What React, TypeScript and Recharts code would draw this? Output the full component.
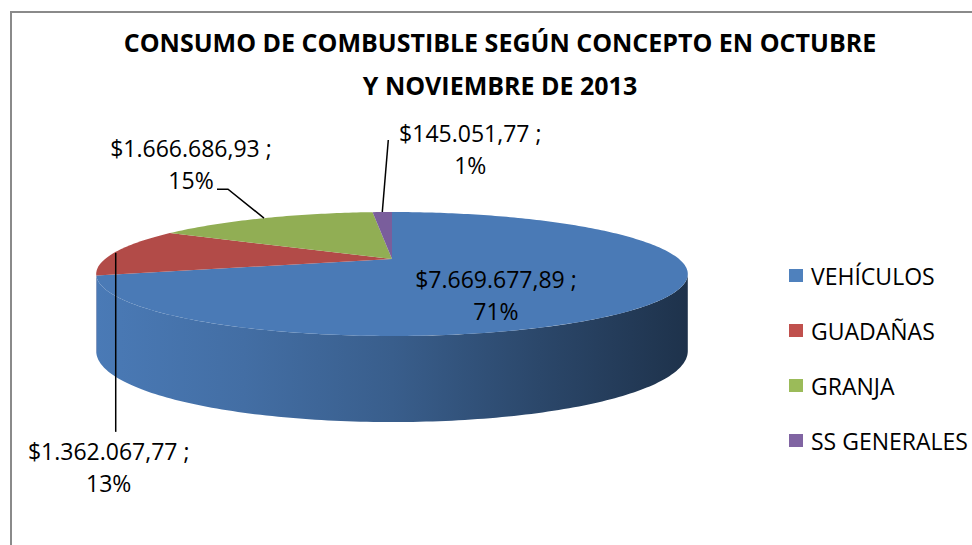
import React from 'react';
import { PieChart, Pie, Cell, Legend } from 'recharts';

const categories = ['VEHÍCULOS', 'GUADAÑAS', 'GRANJA', 'SS GENERALES'];
const amounts = [7669677.89, 1362067.77, 1666686.93, 145051.77];
const titleLines = ['CONSUMO DE COMBUSTIBLE SEGÚN CONCEPTO EN OCTUBRE', 'Y NOVIEMBRE DE 2013'];

const legendColors = ['#4f81bd', '#c0504d', '#9bbb59', '#8064a2'];
const topColors = ['#4a7ab6', '#b24b48', '#91ae54', '#7a5e9c'];

const data = categories.map((name, i) => ({ name, value: amounts[i] }));

const FONT = '"Open Sans", Lato, sans-serif';
// fake excel-style 3d: flatten + a bit of perspective
const TILT = 0.2033;
const PERSP = 0.242;
const VIS = (Math.asin(PERSP) * 180) / Math.PI;
const shades = [1, 0.9, 0.77, 0.58, 0.41];

function fmtMoney(v: number) {
  const [int, dec] = v.toFixed(2).split('.');
  return '$' + int.replace(/\B(?=(\d{3})+(?!\d))/g, '.') + ',' + dec;
}

function shade(hex: string, f: number) {
  const n = parseInt(hex.slice(1), 16);
  const c = [(n >> 16) & 255, (n >> 8) & 255, n & 255].map((x) => Math.round(x * f));
  return `rgb(${c.join(',')})`;
}

function project(cx: number, cy: number, R: number, deg: number, r = 1) {
  const a = (deg * Math.PI) / 180;
  const u = r * Math.cos(a);
  const v = -r * Math.sin(a);
  const s = 1 / (1 - PERSP * v);
  return { x: cx + R * u * s, y: cy + R * TILT * v * s, v };
}

function arc(cx: number, cy: number, R: number, from: number, to: number) {
  const n = Math.max(2, Math.ceil(Math.abs(to - from)));
  const pts = [];
  for (let i = 0; i <= n; i++) pts.push(project(cx, cy, R, from + ((to - from) * i) / n));
  return pts;
}

const Slice3D = (props: any) => {
  const { cx, cy, outerRadius: R, startAngle, endAngle, index } = props;
  const top = arc(cx, cy, R, startAngle, endAngle);
  const topPath = `M${cx},${cy}` + top.map((p) => `L${p.x},${p.y}`).join('') + 'Z';
  const lo = Math.min(startAngle, endAngle);
  const hi = Math.max(startAngle, endAngle);
  const walls: string[] = [];
  for (const shift of [-360, 0, 360]) {
    const a = Math.max(lo, -180 + VIS + shift);
    const b = Math.min(hi, -VIS + shift);
    if (b > a) {
      const upper = arc(cx, cy, R, a, b);
      const lower = upper
        .slice()
        .reverse()
        .map((p) => ({ x: p.x, y: p.y + R * (0.258 + 0.042 * p.v) }));
      walls.push('M' + [...upper, ...lower].map((p) => `${p.x},${p.y}`).join('L') + 'Z');
    }
  }
  const gid = `wall-${index}`;
  const base = topColors[index];
  return (
    <g>
      <defs>
        <linearGradient id={gid} gradientUnits="userSpaceOnUse" x1={cx - R * 1.031} x2={cx + R * 1.031} y1={0} y2={0}>
          {shades.map((f, i) => (
            <stop key={i} offset={i / (shades.length - 1)} stopColor={shade(base, f)} />
          ))}
        </linearGradient>
      </defs>
      {walls.map((d, i) => (
        <path key={i} d={d} fill={`url(#${gid})`} />
      ))}
      <path d={topPath} fill={base} />
    </g>
  );
};

// where each label sits, relative to its slice point
const labelLayout = [
  { r: 0.45, dx: -6, dy: 12, leader: [] as number[][] },
  { r: 1, dx: -7, dy: 208, leader: [[0, 1], [0, 180]] },
  { r: 1, dx: -73, dy: -61, leader: [[0, 0], [-36, -29], [-47, -29]] },
  { r: 1, dx: 88, dy: -70, leader: [[0, 0], [6, -72]] },
];

const renderLabel = (props: any) => {
  const { cx, cy, outerRadius, midAngle, index, value, percent } = props;
  const lay = labelLayout[index];
  const p = project(cx, cy, outerRadius, midAngle, lay.r);
  const tx = p.x + lay.dx;
  const ty = p.y + lay.dy;
  return (
    <g key={`lbl-${index}`}>
      {lay.leader.length > 0 && (
        <polyline
          points={lay.leader.map(([dx, dy]) => `${p.x + dx},${p.y + dy}`).join(' ')}
          fill="none"
          stroke="#000"
          strokeWidth={1.5}
        />
      )}
      <text x={tx} y={ty} textAnchor="middle" fontFamily={FONT} fontSize={23} fill="#000">
        {fmtMoney(value)} ;
      </text>
      <text x={tx} y={ty + 32} textAnchor="middle" fontFamily={FONT} fontSize={23} fill="#000">
        {Math.round(percent * 100)}%
      </text>
    </g>
  );
};

const renderLegend = (props: any) => {
  const items = [...(props.payload || [])].sort(
    (a: any, b: any) => categories.indexOf(a.value) - categories.indexOf(b.value)
  );
  return (
    <div style={{ fontFamily: FONT }}>
      {items.map((e: any, i: number) => (
        <div key={i} style={{ display: 'flex', alignItems: 'center', height: 55 }}>
          <span style={{ display: 'inline-block', width: 14, height: 13, background: e.color, marginRight: 8 }} />
          <span style={{ fontSize: 23, color: '#000' }}>{e.value}</span>
        </div>
      ))}
    </div>
  );
};

export default function App() {
  return (
    <div style={{ position: 'relative', width: 972, height: 545, overflow: 'hidden', background: '#fff' }}>
      <style>{'body{margin:0}'}</style>
      <div
        style={{
          position: 'absolute',
          left: 10,
          top: 11,
          width: 1000,
          height: 600,
          border: '2px solid #8a8a8a',
        }}
      />
      <svg width={972} height={120} style={{ position: 'absolute', left: 0, top: 0 }}>
        {titleLines.map((t, i) => (
          <text key={i} x={500} y={52 + i * 43} textAnchor="middle" fontFamily={FONT} fontWeight={700} fontSize={25} fill="#000">
            {t}
          </text>
        ))}
      </svg>
      <PieChart width={972} height={545} margin={{ top: 0, right: 0, bottom: 0, left: 0 }}>
        <Pie
          data={data}
          dataKey="value"
          nameKey="name"
          cx={392}
          cy={259}
          outerRadius={287}
          startAngle={90}
          endAngle={-270}
          stroke="none"
          shape={Slice3D}
          activeShape={Slice3D}
          inactiveShape={Slice3D}
          label={renderLabel}
          labelLine={false}
          isAnimationActive={false}
        >
          {data.map((d, i) => (
            <Cell key={d.name} fill={legendColors[i]} />
          ))}
        </Pie>
        <Legend
          layout="vertical"
          align="right"
          verticalAlign="top"
          content={renderLegend}
          wrapperStyle={{ left: 789, top: 248, width: 190 }}
        />
      </PieChart>
    </div>
  );
}
